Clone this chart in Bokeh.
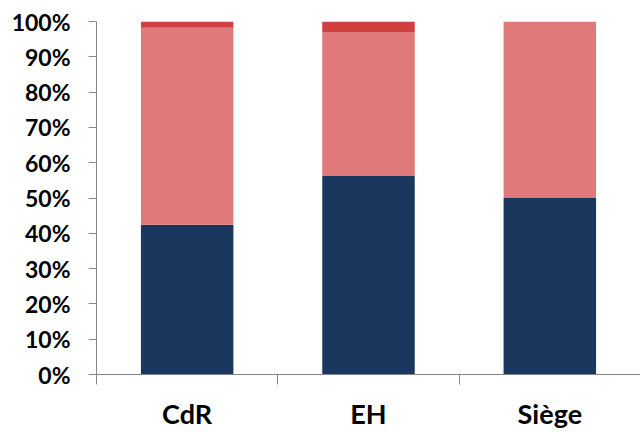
from bokeh.plotting import figure
from bokeh.models import Range1d, FixedTicker, NumeralTickFormatter
from bokeh.embed import file_html
from bokeh.resources import INLINE

categories = ["CdR", "EH", "Siège"]
navy_share = [0.424, 0.562, 0.50]
salmon_share = [0.558, 0.408, 0.50]
red_share = [0.018, 0.030, 0.0]
y_ticks = [0, 0.1, 0.2, 0.3, 0.4, 0.5, 0.6, 0.7, 0.8, 0.9, 1.0]

xs = [i + 0.5 for i in range(len(categories))]
data = dict(x=xs, navy=navy_share, salmon=salmon_share, red=red_share)

p = figure(width=640, height=432, output_backend="svg", toolbar_location=None,
           x_range=Range1d(0, len(categories)), y_range=Range1d(0, 1))
p.min_border_left = 96
p.min_border_right = 0
p.min_border_top = 21
p.min_border_bottom = 56
p.outline_line_color = None
p.grid.visible = False

p.vbar_stack(["navy", "salmon", "red"], x="x", width=0.51, source=data,
             color=["#1A375E", "#E07A7A", "#D13F3F"], line_color=None)

font = "Lato"
p.yaxis.ticker = FixedTicker(ticks=y_ticks)
p.yaxis.formatter = NumeralTickFormatter(format="0%")
p.yaxis.major_label_text_font = font
p.yaxis.major_label_text_font_style = "bold"
p.yaxis.major_label_text_font_size = "23px"
p.yaxis.major_label_text_color = "#000000"
p.yaxis.axis_line_color = "#868686"
p.yaxis.major_tick_line_color = "#868686"
p.yaxis.major_tick_out = 8
p.yaxis.major_tick_in = 0
p.yaxis.minor_tick_line_color = None
p.yaxis.major_label_standoff = 18

p.xaxis.ticker = FixedTicker(ticks=xs, minor_ticks=list(range(len(categories) + 1)))
p.xaxis.major_label_overrides = {x: c for x, c in zip(xs, categories)}
p.xaxis.major_label_text_font = font
p.xaxis.major_label_text_font_style = "bold"
p.xaxis.major_label_text_font_size = "27px"
p.xaxis.major_label_text_color = "#000000"
p.xaxis.axis_line_color = "#868686"
p.xaxis.major_tick_line_color = None
p.xaxis.major_tick_out = 0
p.xaxis.major_tick_in = 0
p.xaxis.minor_tick_line_color = "#868686"
p.xaxis.minor_tick_out = 10
p.xaxis.minor_tick_in = 0
p.xaxis.major_label_standoff = 12

open("out.html", "w").write(file_html(p, INLINE))
